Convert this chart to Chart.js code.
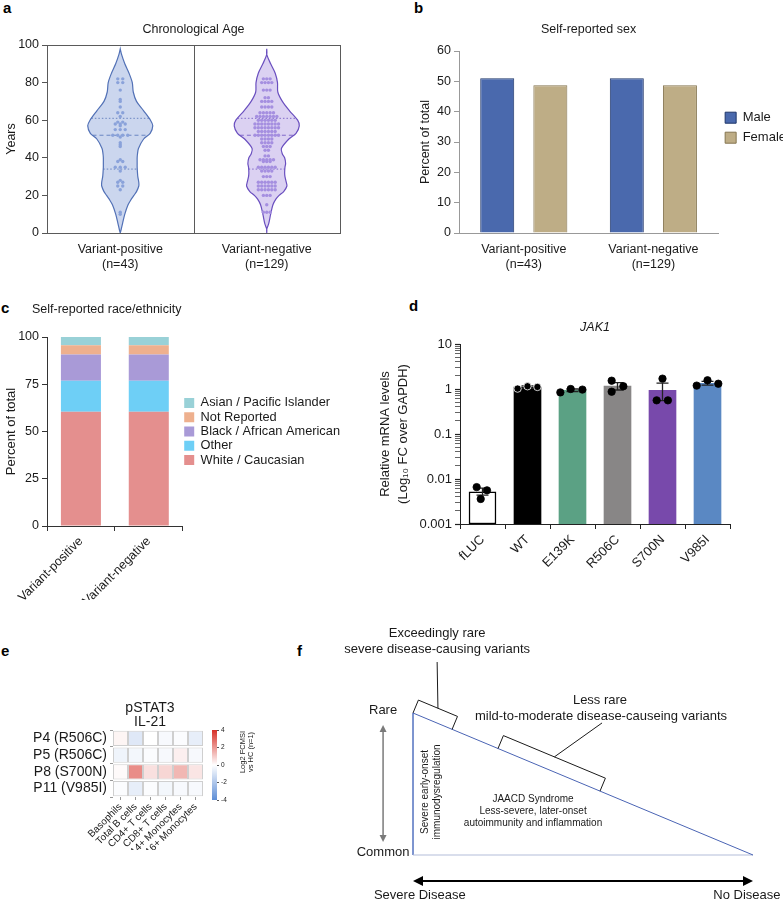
<!DOCTYPE html>
<html lang="en">
<head>
<meta charset="utf-8">
<title>JAK1 variants - cohort and expression</title>
<script src="https://cdn.jsdelivr.net/npm/chart.js@4.4.1/dist/chart.umd.min.js"></script>
<style>
  html, body { margin: 0; padding: 0; background: #fff; overflow: hidden; }
  body { position: relative; width: 783px; height: 900px; }
  canvas { position: absolute; }
  .tag { position: absolute; font: bold 15px/15px "Liberation Sans", Arial, sans-serif; color: #000; }
</style>
</head>
<body>
<div class="tag" style="left:3px;top:0px">a</div>
<div class="tag" style="left:414px;top:0px">b</div>
<div class="tag" style="left:1px;top:300px">c</div>
<div class="tag" style="left:409px;top:298px">d</div>
<div class="tag" style="left:1px;top:643px">e</div>
<div class="tag" style="left:297px;top:643px">f</div>

<canvas id="canvasAge" width="390" height="280" style="left:0;top:0"></canvas>
<canvas id="canvasSex" width="430" height="280" style="left:390px;top:0"></canvas>
<canvas id="canvasRace" width="400" height="310" style="left:0;top:290px"></canvas>
<canvas id="canvasJak" width="413" height="310" style="left:370px;top:290px"></canvas>
<canvas id="canvasHeat" width="300" height="160" style="left:0;top:690px"></canvas>
<canvas id="canvasScale" width="90" height="90" style="left:195px;top:720px"></canvas>
<canvas id="canvasModel" width="493" height="290" style="left:290px;top:610px"></canvas>

<script>
"use strict";

var FONT = '"Liberation Sans", Arial, Helvetica, sans-serif';
Chart.defaults.font.family = FONT;
Chart.defaults.font.size = 12.5;
Chart.defaults.color = '#1a1a1a';
Chart.defaults.animation = false;
Chart.defaults.responsive = false;
Chart.defaults.plugins.legend.display = false;
Chart.defaults.plugins.tooltip.enabled = false;

// a - chronological age
var groupLabels = [['Variant-positive', '(n=43)'], ['Variant-negative', '(n=129)']];
var agePositive = [82, 82, 80, 80, 76, 71, 70, 67, 64, 64, 62, 59, 59, 58, 58, 58, 57, 55, 55, 55,
	52, 52, 52, 52, 51, 48, 47, 46, 39, 38, 38, 35, 35, 35, 33, 28, 27, 27, 25, 25, 23, 11, 10];
var ageNegative = [
	82, 82, 82, 80, 80, 80, 80, 76, 76, 76, 72, 72, 70, 70, 70, 70, 67, 67, 67, 67, 64, 64, 64, 64, 64, 62, 62, 62, 62, 62, 62, 62,
	60, 60, 60, 60, 60, 60, 58, 58, 58, 58, 58, 58, 58, 58, 56, 56, 56, 56, 56, 56, 56, 56, 54, 54, 54, 54, 54, 54, 52, 52, 52, 52, 52, 52, 52, 52,
	50, 50, 50, 50, 48, 48, 48, 48, 46, 46, 46, 44, 44, 41, 41, 39, 39, 39, 39, 39, 38, 38, 38, 35, 35, 35, 35, 35, 35,
	33, 33, 33, 33, 30, 30, 30, 27, 27, 27, 27, 27, 27, 25, 25, 25, 25, 25, 25, 23, 23, 23, 23, 23, 23, 20, 20, 20, 15, 11, 11, 11];
var ageQuartiles = [34, 52, 61];
var violinAges = [0, 2, 5, 10, 15, 18, 20, 22, 25, 27, 30, 32, 35, 37, 40, 42, 45, 50, 53, 57, 60, 65, 70, 75, 80, 85, 90, 95, 98];
var densityPositive = [0, 0.03, 0.07, 0.14, 0.24, 0.34, 0.42, 0.5, 0.57, 0.57, 0.54, 0.53, 0.52, 0.52, 0.52, 0.53, 0.56, 0.72, 0.92, 1, 0.93, 0.72, 0.5, 0.4, 0.37, 0.27, 0.14, 0.04, 0];
var densityNegative = [0, 0, 0.06, 0.12, 0.19, 0.28, 0.38, 0.52, 0.62, 0.6, 0.56, 0.55, 0.56, 0.58, 0.55, 0.48, 0.45, 0.68, 0.9, 1, 0.95, 0.7, 0.48, 0.34, 0.33, 0.26, 0.12, 0, 0];

// b - self-reported sex
var malePct = [51.0, 51.0];
var femalePct = [48.7, 48.7];

// c - self-reported race/ethnicity
var raceGroups = ['Variant-positive', 'Variant-negative'];
var whitePct = [60.4, 60.4];
var otherPct = [16.4, 16.4];
var blackPct = [14.0, 14.0];
var notReportedPct = [4.8, 4.8];
var asianPct = [4.4, 4.4];

// d - JAK1 mRNA
var jakGroups = ['fLUC', 'WT', 'E139K', 'R506C', 'S700N', 'V985I'];
var jakMean = [0.0052, 1.10, 0.94, 1.16, 0.93, 1.34];
var jakErrLow = [0.0044, 1.04, 0.88, 0.95, 0.55, 1.22];
var jakErrHigh = [0.0063, 1.17, 1.00, 1.38, 1.35, 1.47];
var jakReps = [[0.0066, 0.0036, 0.0056], [1.02, 1.15, 1.11], [0.84, 1.00, 0.97], [1.53, 0.87, 1.15], [0.56, 1.70, 0.56], [1.19, 1.56, 1.31]];
var jakTicks = [0.001, 0.01, 0.1, 1, 10];
var jakTickLabels = ['0.001', '0.01', '0.1', '1', '10'];

// e - pSTAT3 IL-21 heatmap
var cellTypes = ['Basophils', 'Total B cells', 'CD4+ T cells', 'CD8+ T cells', 'CD14+ Monocytes', 'CD16+ Monocytes'];
var patients = ['P4 (R506C)', 'P5 (R506C)', 'P8 (S700N)', 'P11 (V985I)'];
var pstatP4 = [0.2, -0.8, 0.0, -0.2, -0.1, -0.6];
var pstatP5 = [-0.4, -0.3, -0.1, -0.2, 0.3, -0.2];
var pstatP8 = [0.1, 2.2, 0.6, 0.8, 1.4, 0.5];
var pstatP11 = [-0.1, -0.6, -0.1, -0.3, -0.2, -0.2];
var scaleLimits = [-4, 4];

// f - disease model
var triSeverity = [0, 0, 1, 0];
var triRarity = [1, 0, 0, 1];
var bracketSpans = [[0, 0.115], [0.25, 0.55]];

// styles and layout
var VIOLIN_HALF = 0.222;
var jakColors = ['#ffffff', '#000000', '#5ba184', '#888686', '#7849ab', '#5a88c3'];
var jakDotOffsets = [[-0.13, -0.04, 0.10], [-0.22, 0, 0.22], [-0.27, -0.04, 0.22], [-0.13, -0.13, 0.13], [-0.13, 0, 0.12], [-0.24, 0, 0.24]];
var modelEdgeColors = ['#6d86c9', '#b3bdd9', '#4a64b4'];
var modelLeaders = [[0.071, 1.359], [0.556, 0.93]];
var modelArrows = [
	{ from: [-0.088, 0.092], to: [-0.088, 0.915], color: '#7a7a7a', width: 1.5, head: 7, half: 3.5 },
	{ from: [0, -0.183], to: [1, -0.183], color: '#000', width: 2, head: 10, half: 5 }
];
var modelTexts = [
	{ text: 'Exceedingly rare', x: 0.071, y: 1.563, size: 13, data: true },
	{ text: 'severe disease-causing variants', x: 0.071, y: 1.451, size: 13, data: true },
	{ text: 'Less rare', x: 0.55, y: 1.092, size: 13, data: true },
	{ text: 'mild-to-moderate disease-causeing variants', x: 0.553, y: 0.979, size: 13, data: true },
	{ text: 'Rare', x: -0.088, y: 1.021, size: 13, data: true },
	{ text: 'Common', x: -0.088, y: 0.021, size: 13, data: true },
	{ text: 'Severe Disease', x: 0.02, y: -0.282, size: 13, data: true },
	{ text: 'No Disease', x: 0.982, y: -0.282, size: 13, data: true },
	{ text: 'Severe early-onset', x: 0.035, y: 0.444, size: 10, rot: -90, data: true },
	{ text: 'immunodysregulation', x: 0.07, y: 0.444, size: 10, rot: -90, data: true },
	{ text: 'JAACD Syndrome', x: 0.353, y: 0.394, size: 10, data: true },
	{ text: 'Less-severe, later-onset', x: 0.353, y: 0.31, size: 10, data: true },
	{ text: 'autoimmunity and inflammation', x: 0.353, y: 0.225, size: 10, data: true }
];

// helpers
function interp(xs, ys, x) {
	for (var i = 1; i < xs.length; i++) {
		if (x <= xs[i]) {
			var t = (x - xs[i - 1]) / (xs[i] - xs[i - 1]);
			return ys[i - 1] + t * (ys[i] - ys[i - 1]);
		}
	}
	return ys[ys.length - 1];
}

function violinOutline(center, density) {
	var right = violinAges.map(function (a, i) { return { x: center + density[i] * VIOLIN_HALF, y: a }; });
	var left = violinAges.map(function (a, i) { return { x: center - density[i] * VIOLIN_HALF, y: a }; }).reverse();
	return right.concat(left);
}

function quartileLine(center, density, age) {
	var w = interp(violinAges, density, age) * VIOLIN_HALF;
	return [{ x: center - w, y: age }, { x: center + w, y: age }];
}

function beeswarm(ages, center, step) {
	var counts = {}, seen = {};
	ages.forEach(function (a) { counts[a] = (counts[a] || 0) + 1; });
	return ages.map(function (a) {
		seen[a] = (seen[a] || 0) + 1;
		return { x: center + (seen[a] - 1 - (counts[a] - 1) / 2) * step, y: a };
	});
}

function heatColor(v) {
	var t = Math.max(-1, Math.min(1, v / scaleLimits[1]));
	var end = t >= 0 ? [215, 48, 39] : [94, 142, 214];
	var f = Math.abs(t);
	return 'rgb(' + end.map(function (c) { return Math.round(255 + (c - 255) * f); }).join(',') + ')';
}

function scaleGradient(ctx) {
	var chart = ctx.chart, y = chart.scales.y;
	if (!chart.chartArea || !y) return '#ffffff';
	var g = chart.ctx.createLinearGradient(0, y.getPixelForValue(scaleLimits[0]), 0, y.getPixelForValue(scaleLimits[1]));
	for (var k = 0; k <= 8; k++) {
		g.addColorStop(k / 8, heatColor(scaleLimits[0] + (scaleLimits[1] - scaleLimits[0]) * k / 8));
	}
	return g;
}

function modelGradient(ctx) {
	var chart = ctx.chart, a = chart.chartArea;
	if (!a) return '#dfe5f5';
	var g = chart.ctx.createLinearGradient(a.left, a.top, a.left + 147, a.top + 87);
	g.addColorStop(0, '#3f5db8');
	g.addColorStop(0.3, '#98a9dc');
	g.addColorStop(0.45, '#c3ceec');
	g.addColorStop(0.7, '#e7ebf7');
	g.addColorStop(1, '#ffffff');
	return g;
}

// plugins
function textLayer(items) {
	return {
		id: 'textLayer',
		afterDraw: function (chart) {
			var c = chart.ctx;
			items.forEach(function (t) {
				var x = t.data ? chart.scales.x.getPixelForValue(t.x) : t.x;
				var y = t.data ? chart.scales.y.getPixelForValue(t.y) : t.y;
				c.save();
				c.translate(x, y);
				if (t.rot) c.rotate(t.rot * Math.PI / 180);
				c.font = (t.italic ? 'italic ' : '') + (t.size || 12.5) + 'px ' + FONT;
				c.fillStyle = t.ink || '#1a1a1a';
				c.textAlign = t.anchor || 'center';
				c.textBaseline = 'middle';
				c.fillText(t.text, 0, 0);
				c.restore();
			});
		}
	};
}

function frameLayer(color, dividers) {
	return {
		id: 'frameLayer',
		afterDatasetsDraw: function (chart) {
			var a = chart.chartArea, c = chart.ctx, x = chart.scales.x;
			c.save();
			c.strokeStyle = color;
			c.lineWidth = 1;
			c.strokeRect(Math.round(a.left) + 0.5, Math.round(a.top) + 0.5, Math.round(a.width), Math.round(a.height));
			dividers.forEach(function (v) {
				var px = Math.round(x.getPixelForValue(v)) + 0.5;
				c.beginPath();
				c.moveTo(px, a.top);
				c.lineTo(px, a.bottom);
				c.stroke();
			});
			c.restore();
		}
	};
}

function errorBarLayer(low, high) {
	return {
		id: 'errorBarLayer',
		afterDatasetDraw: function (chart, args) {
			if (args.index !== 0) return;
			var c = chart.ctx, x = chart.scales.x, y = chart.scales.y;
			c.save();
			c.strokeStyle = '#222';
			c.lineWidth = 1.3;
			high.forEach(function (hi, i) {
				var px = x.getPixelForValue(i), yh = y.getPixelForValue(hi), yl = y.getPixelForValue(low[i]);
				c.beginPath();
				c.moveTo(px, yl); c.lineTo(px, yh);
				c.moveTo(px - 6, yh); c.lineTo(px + 6, yh);
				c.moveTo(px - 6, yl); c.lineTo(px + 6, yl);
				c.stroke();
			});
			c.restore();
		}
	};
}

function drawDoubleArrow(c, p, q, a) {
	var dx = q[0] - p[0], dy = q[1] - p[1], L = Math.hypot(dx, dy), ux = dx / L, uy = dy / L;
	c.strokeStyle = a.color;
	c.fillStyle = a.color;
	c.lineWidth = a.width;
	c.beginPath();
	c.moveTo(p[0] + ux * a.head * 0.8, p[1] + uy * a.head * 0.8);
	c.lineTo(q[0] - ux * a.head * 0.8, q[1] - uy * a.head * 0.8);
	c.stroke();
	[[p, -1], [q, 1]].forEach(function (e) {
		var tip = e[0], s = e[1];
		var bx = tip[0] - s * ux * a.head, by = tip[1] - s * uy * a.head;
		c.beginPath();
		c.moveTo(tip[0], tip[1]);
		c.lineTo(bx - uy * a.half, by + ux * a.half);
		c.lineTo(bx + uy * a.half, by - ux * a.half);
		c.closePath();
		c.fill();
	});
}

function modelLayer(spans, leaders, arrows) {
	return {
		id: 'modelLayer',
		afterDraw: function (chart) {
			var c = chart.ctx, sx = chart.scales.x, sy = chart.scales.y;
			function P(x, y) { return [sx.getPixelForValue(x), sy.getPixelForValue(y)]; }
			var A = P(triSeverity[0], triRarity[0]), B = P(triSeverity[2], triRarity[2]);
			var dx = B[0] - A[0], dy = B[1] - A[1], L = Math.hypot(dx, dy);
			var nx = dy / L, ny = -dx / L, depth = 14;
			c.save();
			c.strokeStyle = '#1a1a1a';
			c.lineWidth = 1;
			spans.forEach(function (s, k) {
				var p0 = [A[0] + dx * s[0], A[1] + dy * s[0]], p1 = [A[0] + dx * s[1], A[1] + dy * s[1]];
				c.beginPath();
				c.moveTo(p0[0], p0[1]);
				c.lineTo(p0[0] + nx * depth, p0[1] + ny * depth);
				c.lineTo(p1[0] + nx * depth, p1[1] + ny * depth);
				c.lineTo(p1[0], p1[1]);
				c.stroke();
				var m = (s[0] + s[1]) / 2;
				var top = [A[0] + dx * m + nx * depth, A[1] + dy * m + ny * depth];
				var from = P(leaders[k][0], leaders[k][1]);
				c.beginPath();
				c.moveTo(from[0], from[1]);
				c.lineTo(top[0], top[1]);
				c.stroke();
			});
			arrows.forEach(function (a) {
				drawDoubleArrow(c, P(a.from[0], a.from[1]), P(a.to[0], a.to[1]), a);
			});
			c.restore();
		}
	};
}

// a - violins
var ageDatasets = [];
[[0.5, agePositive, densityPositive, '#5271b6', '#cbd6ee', '#8aa2da', 0.034],
 [1.5, ageNegative, densityNegative, '#6a4fbf', '#dbd1f2', '#a58fe0', 0.023]].forEach(function (g) {
	ageDatasets.push({ data: violinOutline(g[0], g[2]), showLine: true, fill: 'shape', tension: 0.3,
		borderColor: g[3], borderWidth: 1.2, backgroundColor: g[4], pointRadius: 0, order: 3 });
	ageDatasets.push({ data: beeswarm(g[1], g[0], g[6]), backgroundColor: g[5], borderWidth: 0, pointRadius: 1.7, order: 0 });
	ageQuartiles.forEach(function (q, k) {
		ageDatasets.push({ data: quartileLine(g[0], g[2], q), showLine: true, borderColor: g[3], borderWidth: 0.8,
			borderDash: k === 1 ? [4, 3] : [1.5, 2], pointRadius: 0, order: 1 });
	});
});

new Chart(document.getElementById('canvasAge'), {
	type: 'scatter',
	data: { datasets: ageDatasets },
	options: {
		layout: { padding: { right: 50 } },
		plugins: {
			title: { display: true, fullSize: false, text: 'Chronological Age', font: { size: 12.5, weight: 'normal' }, color: '#1a1a1a', padding: { top: 22, bottom: 8 } }
		},
		scales: {
			x: {
				type: 'linear', min: 0, max: 2,
				afterBuildTicks: function (s) { s.ticks = groupLabels.map(function (l, i) { return { value: i + 0.5 }; }); },
				ticks: { autoSkip: false, maxRotation: 0, padding: 1, callback: function (v) { return groupLabels[Math.floor(v)]; } },
				grid: { display: false },
				border: { color: '#555' },
				afterFit: function (s) { s.height = 47; }
			},
			y: {
				min: 0, max: 100,
				ticks: { stepSize: 20 },
				title: { display: true, text: 'Years', font: { size: 12.5 }, color: '#1a1a1a' },
				grid: { drawOnChartArea: false, tickLength: 5, color: '#555' },
				border: { color: '#555' },
				afterFit: function (s) { s.width = 47; }
			}
		}
	},
	plugins: [frameLayer('#5a5a5a', [1])]
});

// b - sex
new Chart(document.getElementById('canvasSex'), {
	type: 'bar',
	data: {
		labels: groupLabels,
		datasets: [
			{ label: 'Male', data: malePct, backgroundColor: '#4a69ad', borderColor: '#1e3569', borderWidth: 1 },
			{ label: 'Female', data: femalePct, backgroundColor: '#bead86', borderColor: '#857550', borderWidth: 1 }
		]
	},
	options: {
		datasets: { bar: { categoryPercentage: 0.82, barPercentage: 0.64 } },
		layout: { padding: { left: 24, right: 24 } },
		plugins: {
			title: { display: true, fullSize: false, text: 'Self-reported sex', font: { size: 12.5, weight: 'normal' }, color: '#1a1a1a', padding: { top: 22, bottom: 14 } },
			legend: {
				display: true, position: 'right', align: 'start', fullSize: false, maxWidth: 200,
				title: { display: true, text: ' ', padding: { top: 0, bottom: 40 }, font: { size: 11 } },
				labels: { boxWidth: 11, boxHeight: 11, padding: 7, font: { size: 13 }, color: '#1a1a1a' }
			}
		},
		scales: {
			x: { grid: { display: false }, border: { color: '#999' }, ticks: { padding: 1 }, afterFit: function (s) { s.height = 47; } },
			y: {
				min: 0, max: 60, ticks: { stepSize: 10 },
				title: { display: true, text: 'Percent of total', font: { size: 12.5 }, color: '#1a1a1a' },
				grid: { drawOnChartArea: false, tickLength: 5, color: '#999' },
				border: { color: '#999' },
				afterFit: function (s) { s.width = 45; }
			}
		}
	}
});

// c - race / ethnicity
new Chart(document.getElementById('canvasRace'), {
	type: 'bar',
	data: {
		labels: raceGroups,
		datasets: [
			{ label: 'White / Caucasian', data: whitePct, backgroundColor: '#e48f8e' },
			{ label: 'Other', data: otherPct, backgroundColor: '#6ecff6' },
			{ label: 'Black / African American', data: blackPct, backgroundColor: '#a99ad7' },
			{ label: 'Not Reported', data: notReportedPct, backgroundColor: '#eeb08e' },
			{ label: 'Asian / Pacific Islander', data: asianPct, backgroundColor: '#99d1d7' }
		]
	},
	options: {
		datasets: { bar: { barPercentage: 0.59, categoryPercentage: 1 } },
		layout: { padding: { top: 47, right: 50 } },
		plugins: {
			legend: {
				display: true, position: 'right', fullSize: false, reverse: true, maxWidth: 250,
				labels: { boxWidth: 10, boxHeight: 10, padding: 1.5, font: { size: 12.8 }, color: '#1a1a1a' }
			}
		},
		scales: {
			x: {
				stacked: true,
				grid: { drawOnChartArea: false, tickLength: 5, color: '#333' },
				border: { color: '#333' },
				ticks: { minRotation: 45, maxRotation: 45 },
				afterFit: function (s) { s.height = 74; }
			},
			y: {
				stacked: true, min: 0, max: 100, ticks: { stepSize: 25 },
				title: { display: true, text: 'Percent of total', font: { size: 13 }, color: '#1a1a1a' },
				grid: { drawOnChartArea: false, tickLength: 5, color: '#333' },
				border: { color: '#333' },
				afterFit: function (s) { s.width = 47; }
			}
		}
	},
	plugins: [textLayer([{ text: 'Self-reported race/ethnicity', x: 32, y: 20, anchor: 'left' }])]
});

// d - JAK1 expression
var jakDots = [], jakDotEdges = [];
jakReps.forEach(function (reps, i) {
	reps.forEach(function (v, k) {
		jakDots.push({ x: i + jakDotOffsets[i][k], y: v });
		jakDotEdges.push(i === 1 ? '#ffffff' : '#000000');
	});
});

new Chart(document.getElementById('canvasJak'), {
	type: 'bar',
	data: {
		labels: jakGroups,
		datasets: [
			{ data: jakMean, backgroundColor: jakColors, borderColor: '#000',
				borderWidth: jakGroups.map(function (g, i) { return i === 0 ? 1.5 : 0; }),
				borderSkipped: false, grouped: false, barThickness: 27, order: 2 },
			{ type: 'scatter', data: jakDots, xAxisID: 'xDots', backgroundColor: '#000', borderColor: jakDotEdges, borderWidth: 0.8, pointRadius: 3.7, order: 0 }
		]
	},
	options: {
		layout: { padding: { right: 53 } },
		plugins: {
			title: { display: true, fullSize: false, text: 'JAK1', font: { size: 12.5, style: 'italic', weight: 'normal' }, color: '#1a1a1a', padding: { top: 30, bottom: 9 } }
		},
		scales: {
			x: {
				grid: { drawOnChartArea: false, tickLength: 5, color: '#222' },
				border: { color: '#222' },
				ticks: { minRotation: 45, maxRotation: 45, font: { size: 13 } },
				afterFit: function (s) { s.height = 76; }
			},
			xDots: { type: 'linear', display: false, offset: false, grace: 0, min: -0.5, max: 5.5 },
			y: {
				type: 'logarithmic', min: 0.001, max: 10,
				afterBuildTicks: function (s) {
					var t = [];
					jakTicks.forEach(function (v, k) {
						t.push({ value: v, major: true });
						if (k < jakTicks.length - 1) for (var m = 2; m < 10; m++) t.push({ value: v * m, major: false });
					});
					s.ticks = t;
				},
				ticks: { autoSkip: false, font: { size: 13 }, callback: function (v) { var k = jakTicks.indexOf(v); return k < 0 ? '' : jakTickLabels[k]; } },
				title: { display: true, text: ['Relative mRNA levels', '(Log\u2081\u2080 FC over GAPDH)'], font: { size: 13, lineHeight: 1.385 }, color: '#1a1a1a', padding: { top: 6, bottom: 0 } },
				grid: { drawOnChartArea: false, tickLength: 5, color: '#222', tickWidth: function (ctx) { return ctx.tick && ctx.tick.major ? 1.2 : 0.7; } },
				border: { color: '#222' },
				afterFit: function (s) { s.width = 90; }
			}
		}
	},
	plugins: [errorBarLayer(jakErrLow, jakErrHigh)]
});

// e - heatmap
var heatRows = [pstatP4, pstatP5, pstatP8, pstatP11];
new Chart(document.getElementById('canvasHeat'), {
	type: 'bar',
	data: {
		labels: patients,
		datasets: cellTypes.map(function (name, j) {
			return {
				label: name,
				data: patients.map(function () { return 1; }),
				backgroundColor: heatRows.map(function (row) { return heatColor(row[j]); }),
				borderColor: '#cfcfcf', borderWidth: 1, borderSkipped: false,
				barPercentage: 0.9, categoryPercentage: 1
			};
		})
	},
	options: {
		indexAxis: 'y',
		layout: { padding: { top: 40, right: 97 } },
		scales: {
			x: {
				type: 'linear', stacked: true, min: 0, max: 6,
				afterBuildTicks: function (s) { s.ticks = cellTypes.map(function (n, i) { return { value: i + 0.5 }; }); },
				ticks: { autoSkip: false, minRotation: 45, maxRotation: 45, padding: 1, font: { size: 10 }, callback: function (v) { return cellTypes[Math.floor(v)]; } },
				grid: { drawOnChartArea: false, tickLength: 3, color: '#999' },
				border: { display: false },
				afterFit: function (s) { s.height = 53; }
			},
			y: {
				stacked: true,
				ticks: { autoSkip: false, font: { size: 14 }, padding: 3 },
				grid: { drawOnChartArea: false, tickLength: 3, color: '#999' },
				border: { display: false },
				afterFit: function (s) { s.width = 113; }
			}
		}
	},
	plugins: [textLayer([
		{ text: 'pSTAT3', x: 150, y: 18, size: 14 },
		{ text: 'IL-21', x: 150, y: 32, size: 14 }
	])]
});

// e - colour scale
new Chart(document.getElementById('canvasScale'), {
	type: 'bar',
	data: { labels: [''], datasets: [{ data: [scaleLimits], backgroundColor: scaleGradient, borderWidth: 0, barPercentage: 1, categoryPercentage: 1 }] },
	options: {
		layout: { padding: { left: 17, top: 10, bottom: 10, right: 53 } },
		scales: {
			x: { display: false },
			y: {
				position: 'right', min: scaleLimits[0], max: scaleLimits[1],
				ticks: { stepSize: 2, font: { size: 6.5 }, padding: 2 },
				grid: { drawOnChartArea: false, tickLength: 2, color: '#555' },
				border: { display: false },
				afterFit: function (s) { s.width = 15; }
			}
		}
	},
	plugins: [textLayer([
		{ text: 'Log2 FCMSI', x: 48, y: 32, size: 7.5, rot: -90 },
		{ text: 'vs HC (n=1)', x: 56, y: 32, size: 7.5, rot: -90 }
	])]
});

// f - model schematic
new Chart(document.getElementById('canvasModel'), {
	type: 'scatter',
	data: {
		datasets: [{
			data: triSeverity.map(function (s, i) { return { x: s, y: triRarity[i] }; }),
			showLine: true, fill: 'shape', tension: 0, pointRadius: 0, borderWidth: 1, clip: false,
			backgroundColor: modelGradient,
			segment: { borderColor: function (ctx) { return modelEdgeColors[ctx.p0DataIndex]; } }
		}]
	},
	options: {
		layout: { padding: { left: 123, right: 30, top: 103, bottom: 45 } },
		scales: {
			x: { display: false, min: 0, max: 1 },
			y: { display: false, min: 0, max: 1 }
		}
	},
	plugins: [textLayer(modelTexts), modelLayer(bracketSpans, modelLeaders, modelArrows)]
});
</script>
</body>
</html>
